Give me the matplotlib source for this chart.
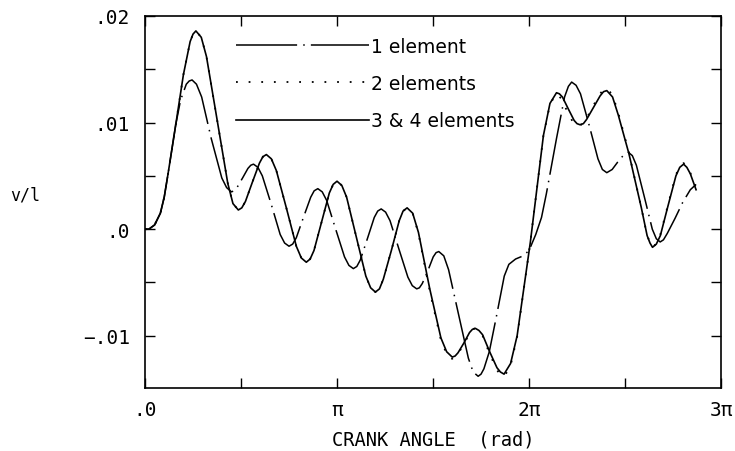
import numpy as np
import matplotlib
matplotlib.use("Agg")
from matplotlib import pyplot as plt

# (crank angle / pi, v/l)

# 3 & 4 elements (solid)
pts_3 = [(0.000, 0.0000), (0.020, 0.0000), (0.050, 0.0004), (0.080, 0.0015),
         (0.100, 0.0030), (0.120, 0.0052), (0.140, 0.0075),
         (0.160, 0.0098), (0.200, 0.0145), (0.235, 0.0176), (0.250, 0.0183),
         (0.265, 0.0186), (0.293, 0.0180), (0.320, 0.0162), (0.376, 0.0102),
         (0.431, 0.0043), (0.458, 0.0024), (0.486, 0.0018), (0.504, 0.0020),
         (0.523, 0.0026), (0.559, 0.0044), (0.596, 0.0062), (0.614, 0.0068),
         (0.632, 0.0070), (0.658, 0.0066), (0.684, 0.0055), (0.736, 0.0020),
         (0.788, -0.0016), (0.814, -0.0027), (0.840, -0.0031), (0.860, -0.0028),
         (0.880, -0.0020), (0.920, 0.0007), (0.960, 0.0034), (0.980, 0.0042),
         (1.000, 0.0045), (1.025, 0.0041), (1.050, 0.0030), (1.100, -0.0007),
         (1.150, -0.0044), (1.175, -0.0055), (1.200, -0.0059), (1.221, -0.0056),
         (1.241, -0.0047), (1.283, -0.0020), (1.324, 0.0008), (1.344, 0.0017),
         (1.365, 0.0020), (1.394, 0.0015), (1.424, -0.0003), (1.483, -0.0056),
         (1.541, -0.0102), (1.571, -0.0115), (1.600, -0.0120), (1.615, -0.0119),
         (1.630, -0.0116), (1.660, -0.0107), (1.690, -0.0097), (1.705, -0.0094),
         (1.720, -0.0093), (1.739, -0.0095), (1.758, -0.0099), (1.795, -0.0115),
         (1.833, -0.0130), (1.851, -0.0134), (1.870, -0.0136), (1.904, -0.0126),
         (1.938, -0.0100), (2.007, -0.0012), (2.075, 0.0088), (2.109, 0.0118),
         (2.143, 0.0128), (2.158, 0.0127), (2.174, 0.0124), (2.204, 0.0113),
         (2.235, 0.0102), (2.250, 0.0099), (2.265, 0.0098), (2.283, 0.0099),
         (2.300, 0.0103), (2.335, 0.0114), (2.370, 0.0125), (2.388, 0.0129),
         (2.405, 0.0130), (2.435, 0.0124), (2.465, 0.0107), (2.520, 0.0071),
         (2.585, 0.0020), (2.615, -0.0006), (2.630, -0.0013), (2.643, -0.0017),
         (2.663, -0.0014), (2.684, -0.0006), (2.724, 0.0022), (2.765, 0.0050),
         (2.785, 0.0058), (2.805, 0.0061), (2.822, 0.0058), (2.840, 0.0052),
         (2.870, 0.0037)]

# 2 elements (dotted) - sits on the solid curve up to ~1.5 pi
pts_2 = [(0.000, 0.0000), (0.020, 0.0000), (0.050, 0.0004), (0.080, 0.0015),
         (0.100, 0.0030), (0.120, 0.0052), (0.140, 0.0075),
         (0.160, 0.0098), (0.200, 0.0145), (0.235, 0.0176), (0.250, 0.0183),
         (0.265, 0.0186), (0.293, 0.0180), (0.320, 0.0162), (0.376, 0.0102),
         (0.431, 0.0043), (0.458, 0.0024), (0.486, 0.0018), (0.504, 0.0020),
         (0.523, 0.0026), (0.559, 0.0044), (0.596, 0.0062), (0.614, 0.0068),
         (0.632, 0.0070), (0.658, 0.0066), (0.684, 0.0055), (0.736, 0.0020),
         (0.788, -0.0016), (0.814, -0.0027), (0.840, -0.0031), (0.860, -0.0028),
         (0.880, -0.0020), (0.920, 0.0007), (0.960, 0.0034), (0.980, 0.0042),
         (1.000, 0.0045), (1.025, 0.0041), (1.050, 0.0030), (1.100, -0.0007),
         (1.150, -0.0044), (1.175, -0.0055), (1.200, -0.0059), (1.221, -0.0056),
         (1.241, -0.0047), (1.283, -0.0020), (1.324, 0.0008), (1.344, 0.0017),
         (1.365, 0.0020), (1.394, 0.0015), (1.424, -0.0004), (1.483, -0.0058),
         (1.541, -0.0104), (1.571, -0.0117), (1.595, -0.0122), (1.615, -0.0120),
         (1.630, -0.0117), (1.660, -0.0108), (1.690, -0.0098), (1.705, -0.0094),
         (1.720, -0.0093), (1.739, -0.0096), (1.758, -0.0100), (1.795, -0.0117),
         (1.833, -0.0132), (1.851, -0.0137), (1.872, -0.0138), (1.904, -0.0128),
         (1.938, -0.0101), (2.007, -0.0012), (2.075, 0.0088), (2.109, 0.0117),
         (2.140, 0.0127), (2.155, 0.0125), (2.170, 0.0122), (2.200, 0.0110),
         (2.230, 0.0100), (2.247, 0.0097), (2.262, 0.0097), (2.280, 0.0099),
         (2.300, 0.0104), (2.335, 0.0116), (2.370, 0.0127), (2.388, 0.0131),
         (2.405, 0.0132), (2.435, 0.0126), (2.465, 0.0109), (2.520, 0.0072),
         (2.585, 0.0020), (2.615, -0.0006), (2.632, -0.0013), (2.645, -0.0017),
         (2.665, -0.0013), (2.684, -0.0005), (2.724, 0.0023), (2.765, 0.0051),
         (2.785, 0.0059), (2.805, 0.0062), (2.822, 0.0059), (2.840, 0.0053),
         (2.870, 0.0038)]

# 1 element (dash-dot)
pts_1 = [(0.000, 0.0000), (0.020, 0.0000), (0.050, 0.0004), (0.080, 0.0015),
         (0.100, 0.0030), (0.120, 0.0052), (0.140, 0.0075),
         (0.160, 0.0098), (0.185, 0.0121), (0.215, 0.0136), (0.230, 0.0139),
         (0.245, 0.0140), (0.268, 0.0136), (0.295, 0.0124), (0.345, 0.0085),
         (0.400, 0.0048), (0.425, 0.0039), (0.450, 0.0035), (0.464, 0.0036),
         (0.479, 0.0039), (0.508, 0.0048), (0.536, 0.0057), (0.551, 0.0060),
         (0.565, 0.0061), (0.588, 0.0058), (0.611, 0.0050), (0.658, 0.0023),
         (0.704, -0.0005), (0.727, -0.0013), (0.750, -0.0016), (0.769, -0.0014),
         (0.788, -0.0008), (0.825, 0.0011), (0.863, 0.0030), (0.881, 0.0036),
         (0.900, 0.0038), (0.923, 0.0035), (0.946, 0.0027), (0.993, 0.0000),
         (1.039, -0.0026), (1.062, -0.0034), (1.085, -0.0037), (1.103, -0.0035),
         (1.121, -0.0029), (1.158, -0.0009), (1.194, 0.0011), (1.212, 0.0017),
         (1.230, 0.0019), (1.253, 0.0016), (1.276, 0.0008), (1.323, -0.0019),
         (1.369, -0.0045), (1.392, -0.0053), (1.415, -0.0056), (1.429, -0.0055),
         (1.444, -0.0051), (1.473, -0.0039), (1.501, -0.0026), (1.516, -0.0022),
         (1.530, -0.0021), (1.556, -0.0025), (1.581, -0.0038), (1.633, -0.0080),
         (1.684, -0.0121), (1.709, -0.0134), (1.735, -0.0138), (1.750, -0.0136),
         (1.765, -0.0131), (1.793, -0.0115), (1.830, -0.0082), (1.871, -0.0044),
         (1.895, -0.0033), (1.930, -0.0028), (1.970, -0.0025), (2.000, -0.0020),
         (2.035, -0.0005), (2.065, 0.0011), (2.090, 0.0033), (2.143, 0.0085),
         (2.185, 0.0124), (2.205, 0.0134), (2.222, 0.0138), (2.245, 0.0135),
         (2.268, 0.0127), (2.314, 0.0097), (2.359, 0.0066), (2.382, 0.0056),
         (2.405, 0.0053), (2.433, 0.0056), (2.462, 0.0063), (2.490, 0.0069),
         (2.518, 0.0072), (2.538, 0.0069), (2.559, 0.0060), (2.601, 0.0030),
         (2.642, 0.0000), (2.663, -0.0009), (2.683, -0.0012), (2.700, -0.0010),
         (2.720, -0.0004), (2.760, 0.0010), (2.800, 0.0025), (2.840, 0.0037),
         (2.870, 0.0042)]

labels = ["1 element", "2 elements", "3 & 4 elements"]
y_ticks = [-0.01, 0.0, 0.01, 0.02]
y_tick_labels = ["\u2212.01", ".0", ".01", ".02"]
x_ticks = [0, 1, 2, 3]
x_tick_labels = [".0", "\u03c0", "2\u03c0", "3\u03c0"]

fig = plt.figure(figsize=(7.35, 4.52), dpi=100)
ax = fig.add_axes([0.1973, 0.1394, 0.7837, 0.823])

styles = [dict(lw=1.1, linestyle=(0, (40, 4, 1, 4))),
          dict(lw=1.3, linestyle=(0, (1, 6))),
          dict(lw=1.2, linestyle="-")]
for pts, lab, st in zip([pts_1, pts_2, pts_3], labels, styles):
    th, v = zip(*pts)
    ax.plot(np.array(th) * np.pi, v, color="black", label=lab, **st)

ax.set_xlim(0, 3 * np.pi)
ax.set_ylim(-0.0149, 0.02)

mono = "DejaVu Sans Mono"
ax.set_xticks(np.array(x_ticks) * np.pi)
ax.set_xticklabels(x_tick_labels, fontfamily=mono, fontsize=14)
ax.set_xticks(np.arange(0.5, 3, 1) * np.pi, minor=True)
ax.set_yticks(y_ticks)
ax.set_yticklabels(y_tick_labels, fontfamily=mono, fontsize=14)
ax.set_yticks([-0.005, 0.005, 0.015], minor=True)
ax.tick_params(which="both", direction="in", length=7, width=1,
               top=True, right=True)
ax.tick_params(axis="y", pad=11)
ax.tick_params(axis="x", pad=9)
for s in ax.spines.values():
    s.set_linewidth(1.2)

ax.set_xlabel("CRANK ANGLE  (rad)", fontfamily=mono, fontsize=13.5, labelpad=7)
fig.text(0.014, 0.568, "v/l", fontfamily=mono, fontsize=12, va="center")

ax.legend(loc="upper left", bbox_to_anchor=(0.129, 0.99), frameon=False,
          handlelength=7.1, handletextpad=0.1, labelspacing=0.98,
          prop={"family": "DejaVu Sans", "size": 13.5})

fig.savefig("out.png", dpi=100)
